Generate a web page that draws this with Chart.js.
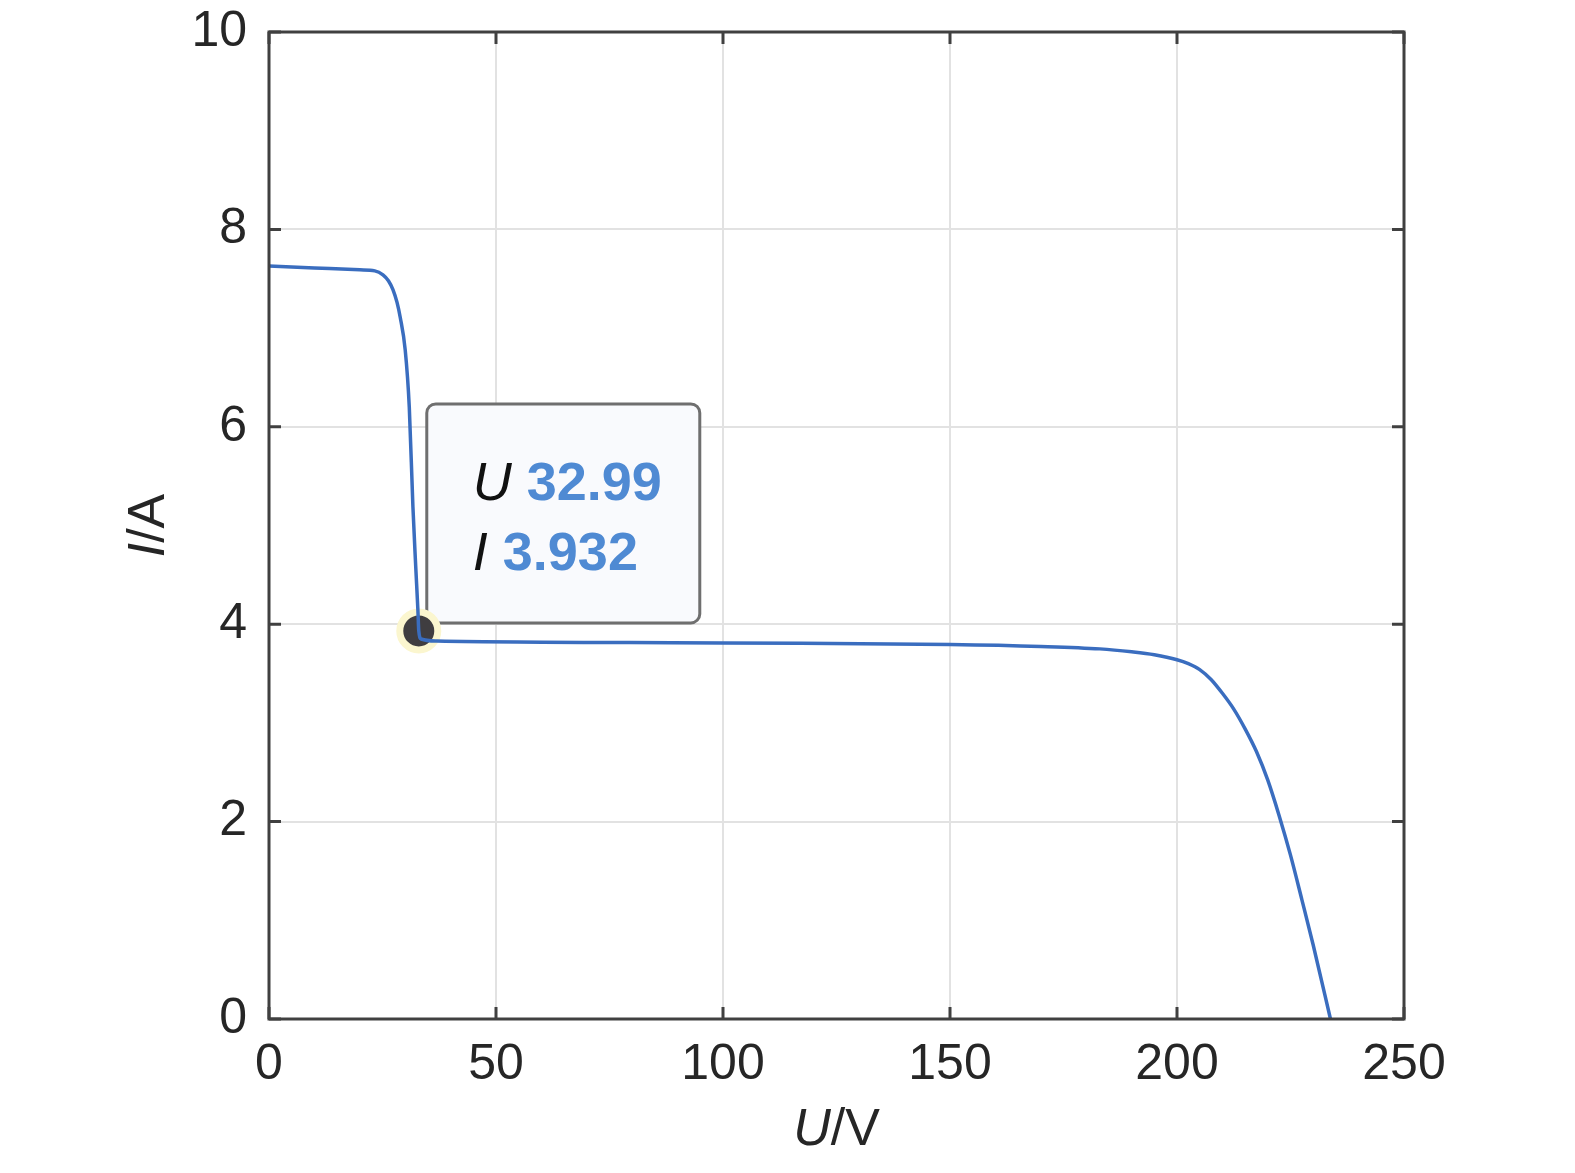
<!DOCTYPE html>
<html>
<head>
<meta charset="utf-8">
<script src="https://cdn.jsdelivr.net/npm/chart.js@4"></script>
<style>
  body { margin: 0; background: #fff; }
  #wrap { width: 1575px; height: 1173px; }
</style>
</head>
<body>
<div id="wrap"><canvas id="ivChart" width="1575" height="1173"></canvas></div>
<script>
// I-U curve (partial shading, two steps)
const voltage = [0, 10, 20, 23.3, 25.1, 26.3, 27.3, 28.2, 28.9, 30.0, 30.9, 31.7, 32.3, 32.8, 32.99, 33.5, 37,
  100, 150, 170, 183, 190, 195, 200, 202.5, 205, 207.5, 210, 212.5, 215, 217.5, 220, 222.5, 225, 227.5, 230, 233.8];
const current = [7.63, 7.61, 7.59, 7.58, 7.54, 7.48, 7.39, 7.26, 7.11, 6.78, 6.20, 5.19, 4.6, 4.14, 3.932, 3.85, 3.83,
  3.81, 3.795, 3.775, 3.75, 3.72, 3.69, 3.64, 3.60, 3.54, 3.44, 3.30, 3.14, 2.94, 2.71, 2.42, 2.06, 1.66, 1.21, 0.75, 0];

// data tip
const tipU = [32.99];
const tipI = [3.932];

const xTicks = [0, 50, 100, 150, 200, 250];
const yTicks = [0, 2, 4, 6, 8, 10];

const colors = {
  line: '#3a6dbf',
  axis: '#404040',
  grid: '#e2e2e2',
  text: '#262626',
  tipValue: '#4f8ad3',
  tipFill: '#f9fafd',
  tipBorder: '#6f6f6f'
};
const FONT = "'Liberation Sans', Arial, Helvetica, sans-serif";

// draws the box, inward ticks, titles and the data tip
const matlabLook = {
  id: 'matlabLook',
  beforeDatasetsDraw(chart) {
    const ctx = chart.ctx;
    const px = chart.scales.x.getPixelForValue(tipU[0]);
    const py = chart.scales.y.getPixelForValue(tipI[0]);
    const left = px + 8, bottom = py - 8, w = 273, h = 219;
    ctx.save();
    ctx.beginPath();
    ctx.roundRect(left, bottom - h, w, h, 9);
    ctx.fillStyle = colors.tipFill;
    ctx.fill();
    ctx.lineWidth = 3;
    ctx.strokeStyle = colors.tipBorder;
    ctx.stroke();

    const tx = left + 46;
    ctx.textBaseline = 'alphabetic';
    ctx.textAlign = 'left';
    // U line
    ctx.font = 'italic 54px ' + FONT;
    ctx.fillStyle = '#111';
    ctx.fillText('U', tx, bottom - h + 96);
    let wU = ctx.measureText('U ').width;
    ctx.font = 'bold 54px ' + FONT;
    ctx.fillStyle = colors.tipValue;
    ctx.fillText(tipU[0].toFixed(2), tx + wU, bottom - h + 96);
    // I line
    ctx.font = 'italic 54px ' + FONT;
    ctx.fillStyle = '#111';
    ctx.fillText('I', tx, bottom - h + 166);
    let wI = ctx.measureText('I ').width;
    ctx.font = 'bold 54px ' + FONT;
    ctx.fillStyle = colors.tipValue;
    ctx.fillText(tipI[0].toFixed(3), tx + wI, bottom - h + 166);
    ctx.restore();
  },
  afterDraw(chart) {
    const ctx = chart.ctx;
    const a = chart.chartArea;
    const xs = chart.scales.x, ys = chart.scales.y;
    ctx.save();
    ctx.strokeStyle = colors.axis;
    ctx.lineWidth = 3;
    // inward ticks on all four sides
    ctx.beginPath();
    xTicks.forEach(v => {
      const x = xs.getPixelForValue(v);
      ctx.moveTo(x, a.bottom); ctx.lineTo(x, a.bottom - 12);
      ctx.moveTo(x, a.top); ctx.lineTo(x, a.top + 12);
    });
    yTicks.forEach(v => {
      const y = ys.getPixelForValue(v);
      ctx.moveTo(a.left, y); ctx.lineTo(a.left + 12, y);
      ctx.moveTo(a.right, y); ctx.lineTo(a.right - 12, y);
    });
    ctx.stroke();
    ctx.strokeRect(a.left, a.top, a.right - a.left, a.bottom - a.top);

    // axis titles with italic symbol
    ctx.fillStyle = colors.text;
    ctx.textBaseline = 'middle';
    ctx.textAlign = 'left';
    const drawTitle = (sym, unit, cx, cy, rot) => {
      ctx.save();
      ctx.translate(cx, cy);
      ctx.rotate(rot);
      ctx.font = 'italic 52px ' + FONT;
      const w1 = ctx.measureText(sym).width;
      ctx.font = '52px ' + FONT;
      const w2 = ctx.measureText(unit).width;
      const start = -(w1 + w2) / 2;
      ctx.font = 'italic 52px ' + FONT;
      ctx.fillText(sym, start, 0);
      ctx.font = '52px ' + FONT;
      ctx.fillText(unit, start + w1, 0);
      ctx.restore();
    };
    drawTitle('U', '/V', (a.left + a.right) / 2, 1131, 0);
    drawTitle('I', '/A', 150, (a.top + a.bottom) / 2, -Math.PI / 2);
    ctx.restore();
  }
};

new Chart(document.getElementById('ivChart'), {
  type: 'scatter',
  data: {
    datasets: [
      {
        label: 'I-U',
        data: voltage.map((u, i) => ({ x: u, y: current[i] })),
        showLine: true,
        borderColor: colors.line,
        borderWidth: 3.5,
        pointRadius: 0,
        cubicInterpolationMode: 'monotone'
      },
      {
        label: 'tip',
        data: tipU.map((u, i) => ({ x: u, y: tipI[i] })),
        pointRadius: 19,
        pointBackgroundColor: '#3f3d40',
        pointBorderColor: '#fbf6cf',
        pointBorderWidth: 7
      }
    ]
  },
  options: {
    responsive: false,
    animation: false,
    layout: { padding: { top: 32, right: 171, left: 0, bottom: 0 } },
    plugins: { legend: { display: false }, tooltip: { enabled: false } },
    scales: {
      x: {
        type: 'linear', min: 0, max: 250,
        afterBuildTicks: s => { s.ticks = xTicks.map(v => ({ value: v })); },
        afterFit: s => { s.height = 154; s.paddingLeft = 0; s.paddingRight = 0; },
        grid: { color: colors.grid, lineWidth: 2, drawTicks: false },
        border: { display: false },
        ticks: { color: colors.text, font: { family: FONT, size: 50 }, padding: 16, maxRotation: 0 }
      },
      y: {
        type: 'linear', min: 0, max: 10,
        afterBuildTicks: s => { s.ticks = yTicks.map(v => ({ value: v })); },
        afterFit: s => { s.width = 269; s.paddingTop = 0; s.paddingBottom = 0; },
        grid: { color: colors.grid, lineWidth: 2, drawTicks: false },
        border: { display: false },
        ticks: { color: colors.text, font: { family: FONT, size: 50 }, padding: 22 }
      }
    }
  },
  plugins: [matlabLook]
});
</script>
</body>
</html>
